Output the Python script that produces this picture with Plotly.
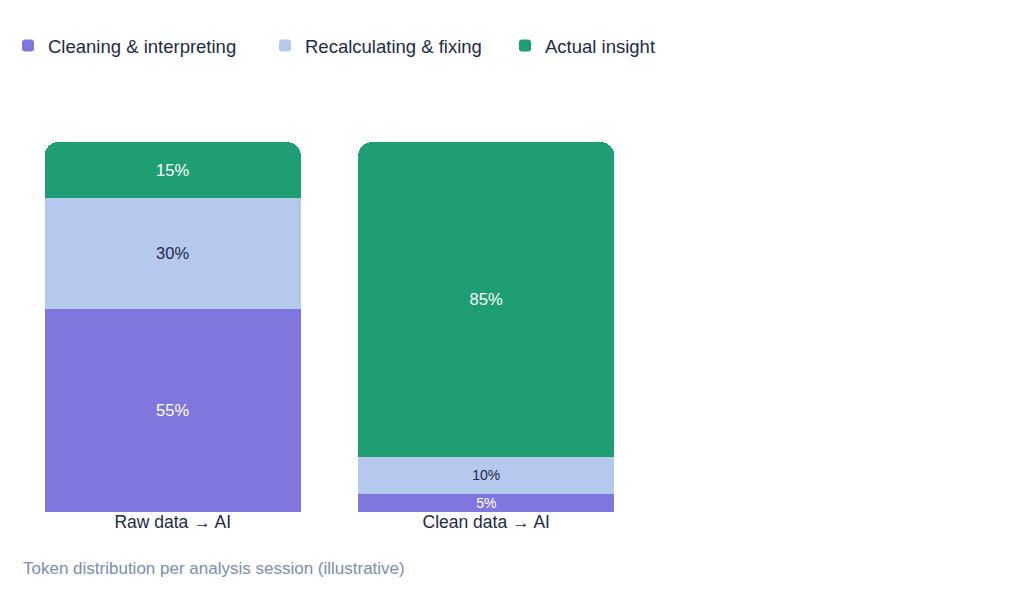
import plotly.graph_objects as go

categories = ["Raw data → AI", "Clean data → AI"]
series_names = ["Cleaning & interpreting", "Recalculating & fixing", "Actual insight"]
cleaning = [55, 5]
recalculating = [30, 10]
insight = [15, 85]
caption = "Token distribution per analysis session (illustrative)"

colors = ["#7f77dd", "#b5c8ee", "#1f9e74"]
text_colors = ["#ffffff", "#1e2a4a", "#ffffff"]
legend_ids = ["legend", "legend2", "legend3"]
legend_x_px = [8, 265, 505]
FONT = "Liberation Sans, Arial, Helvetica, sans-serif"


def label_size(v):
    return 16.5 if v >= 15 else 14


fig = go.Figure()
for name, vals, col, tcol, lid in zip(series_names, [cleaning, recalculating, insight],
                                      colors, text_colors, legend_ids):
    fig.add_trace(go.Bar(
        name=name, x=categories, y=vals, legend=lid,
        marker=dict(color=col, line=dict(width=0)),
        text=[f"{v}%" for v in vals], textposition="inside",
        insidetextanchor="middle", textangle=0, constraintext="none",
        textfont=dict(color=tcol, size=[label_size(v) for v in vals], family=FONT),
        hoverinfo="skip",
    ))

legend_common = dict(orientation="h", xref="container", yref="container",
                     xanchor="left", yanchor="top",
                     font=dict(size=18.5, color="#1e2a4a", family=FONT),
                     bgcolor="rgba(0,0,0,0)")
legends = {}
for lid, lx in zip(legend_ids, legend_x_px):
    legends[lid] = dict(legend_common, x=lx / 1024, y=1 - 27 / 613)

fig.update_layout(
    width=1024, height=613,
    barmode="stack", bargap=0.183, barcornerradius=14,
    plot_bgcolor="white", paper_bgcolor="white",
    margin=dict(l=16, r=381, t=142, b=101, pad=0),
    font=dict(family=FONT, color="#1e2a4a", size=16),
    showlegend=True,
    xaxis=dict(showgrid=False, showline=False, zeroline=False, ticks="",
               tickfont=dict(size=17.5, color="#1e2a4a"), ticklabelstandoff=-3),
    yaxis=dict(range=[0, 100], visible=False, showgrid=False, zeroline=False),
    **legends,
)
fig.add_annotation(text=caption, xref="paper", yref="paper", x=0, xshift=5,
                   y=-(568 - 512) / 370, yanchor="middle", xanchor="left", showarrow=False,
                   font=dict(size=17, color="#7d8db0", family=FONT))

fig.write_html("out.html")
